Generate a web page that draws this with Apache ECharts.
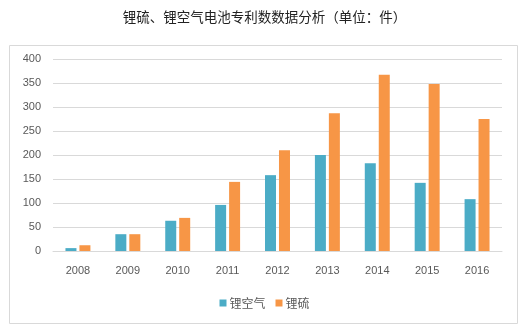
<!DOCTYPE html>
<html><head><meta charset="utf-8">
<script src="https://cdn.jsdelivr.net/npm/echarts@6/dist/echarts.min.js"></script>
<style>html,body{margin:0;padding:0;background:#fff}#c{width:529px;height:334px}</style>
</head><body><div id="c"></div>
<script>
const years = ['2008','2009','2010','2011','2012','2013','2014','2015','2016'];
const liAir = [6, 35, 63, 96, 158, 200, 183, 142, 108];
const liS = [12, 35, 69, 144, 210, 287, 367, 348, 275];
const chart = echarts.init(document.getElementById('c'));
const font = '"Noto Sans CJK SC", sans-serif';
chart.setOption({
  animation: false,
  title: {text: '锂硫、锂空气电池专利数数据分析（单位：件）', left: 'center', top: 5,
    textStyle: {fontSize: 13.5, fontWeight: 'normal', color: '#222', fontFamily: font}},
  graphic: [{type: 'rect', shape: {x: 9.5, y: 45.5, width: 508, height: 278},
    style: {fill: 'none', stroke: '#d9d9d9', lineWidth: 1}, silent: true}],
  legend: {data: ['锂空气','锂硫'], bottom: 20, left: 'center', itemWidth: 7, itemHeight: 7, itemGap: 10,
    icon: 'rect', textStyle: {fontSize: 12, color: '#595959', fontFamily: font, padding: [0, 0, 0, -2]}},
  grid: {left: 53, right: 27, top: 59, bottom: 83},
  xAxis: {type: 'category', data: years,
    axisLine: {lineStyle: {color: '#d9d9d9'}}, axisTick: {show: false},
    axisLabel: {color: '#595959', fontSize: 11, margin: 14, fontFamily: 'Liberation Sans, sans-serif'}},
  yAxis: {type: 'value', min: 0, max: 400, interval: 50,
    axisLine: {show: false}, axisTick: {show: false},
    splitLine: {lineStyle: {color: '#d9d9d9'}},
    axisLabel: {color: '#595959', fontSize: 11, margin: 12, fontFamily: 'Liberation Sans, sans-serif'}},
  series: [
    {name: '锂空气', type: 'bar', data: liAir, barWidth: 11, barGap: '27%', itemStyle: {color: '#4BACC6'}},
    {name: '锂硫', type: 'bar', data: liS, barWidth: 11, itemStyle: {color: '#F79646'}}
  ]
});
</script></body></html>
